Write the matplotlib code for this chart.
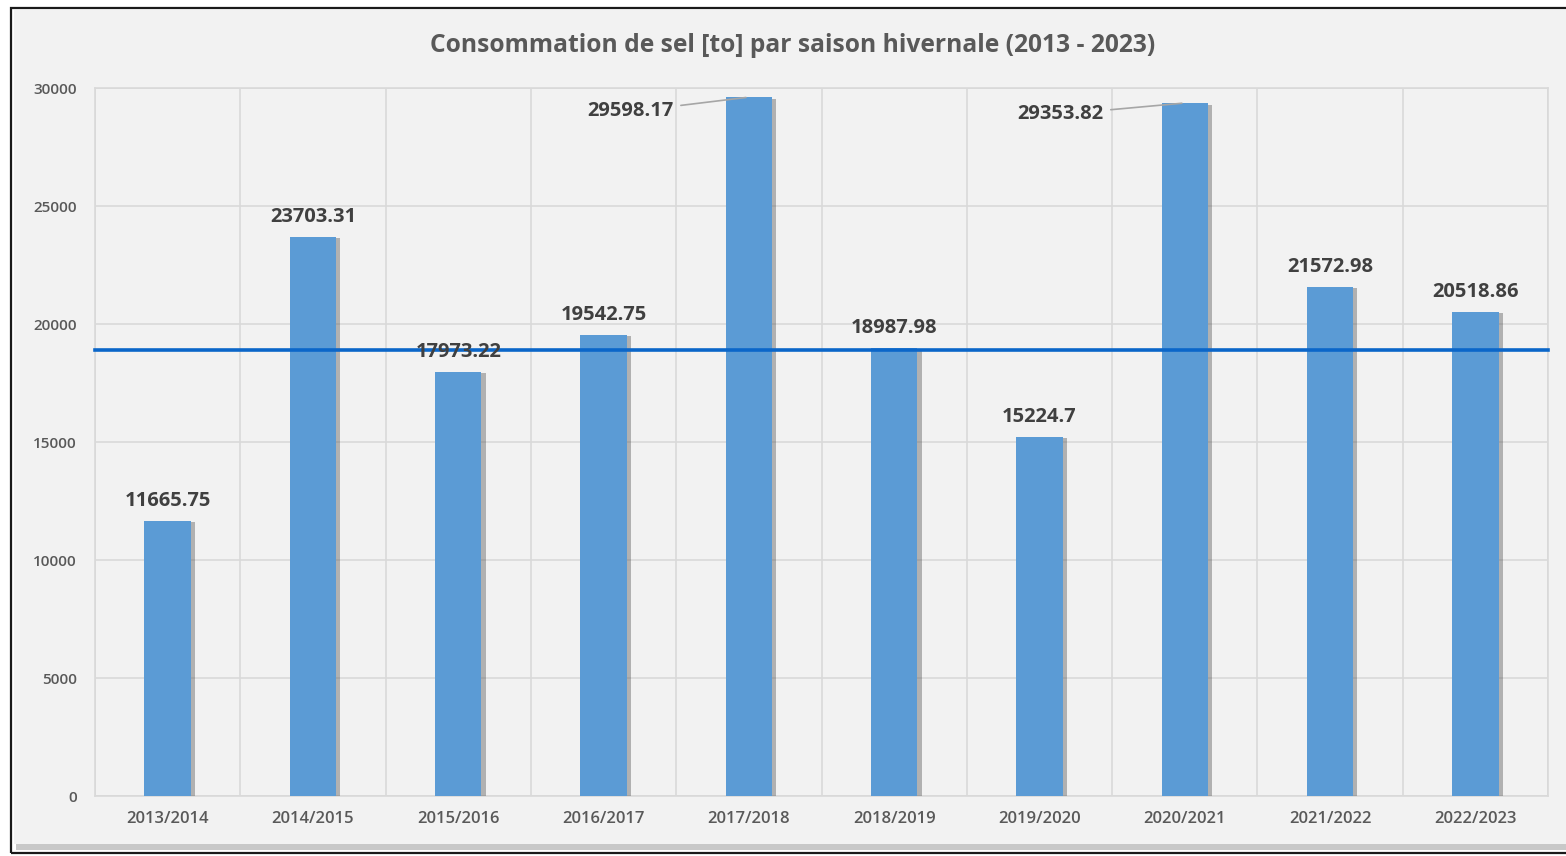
import matplotlib
matplotlib.use("Agg")
from matplotlib import pyplot as plt
from matplotlib import patches
from matplotlib import patheffects as pe
import numpy as np

# data
seasons = ['2013/2014', '2014/2015', '2015/2016', '2016/2017', '2017/2018',
           '2018/2019', '2019/2020', '2020/2021', '2021/2022', '2022/2023']
salt_to = [11665.75, 23703.31, 17973.22, 19542.75, 29598.17,
           18987.98, 15224.7, 29353.82, 21572.98, 20518.86]
value_labels = ['11665.75', '23703.31', '17973.22', '19542.75', '29598.17',
                '18987.98', '15224.7', '29353.82', '21572.98', '20518.86']
ref_line = 18900
leader_idx = [4, 7]
leader_off = {4: (-72, -14), 7: (-78, -11)}
yticks = [0, 5000, 10000, 15000, 20000, 25000, 30000]

plt.rcParams['font.family'] = ['Open Sans', 'DejaVu Sans']

fig = plt.figure(figsize=(15.66, 8.56), dpi=100)
fig.patch.set_facecolor('#ffffff')

# panel with black frame + soft shadow
shadow = patches.Rectangle((16/1566, 1-850/856), 1.0, (850-12)/856,
                           transform=fig.transFigure, facecolor='#c8c8c8',
                           edgecolor='none', zorder=-3)
fig.patches.append(shadow)
panel = patches.Rectangle((14/1566, 1-844/856), 1.0, (844-10)/856,
                          transform=fig.transFigure, facecolor='#f2f2f2',
                          edgecolor='none', zorder=-2)
fig.patches.append(panel)
frame = patches.Rectangle((11/1566, 1-853/856), 1.0, (853-8)/856,
                          transform=fig.transFigure, facecolor='none',
                          edgecolor='#1a1a1a', lw=1.6, zorder=-1)
fig.patches.append(frame)

ax = fig.add_axes([95/1566, 1-796/856, (1548-95)/1566, (796-88)/856])
ax.set_facecolor('#f2f2f2')

x = np.arange(len(seasons))
bars = ax.bar(x, salt_to, width=0.32, color='#5b9bd5', zorder=3)
for b in bars:
    b.set_path_effects([pe.SimplePatchShadow(offset=(3, -1), shadow_rgbFace='#505050', alpha=0.4),
                        pe.Normal()])

ax.set_xlim(-0.5, len(seasons)-0.5)
ax.set_ylim(0, 30000)
ax.set_yticks(yticks)
ax.set_yticklabels([str(v) for v in yticks])
ax.set_xticks(x)
ax.set_xticklabels(seasons)
ax.set_xticks(np.arange(len(seasons)+1)-0.5, minor=True)

ax.tick_params(axis='y', length=0, pad=13, labelsize=11, labelcolor='#595959')
ax.tick_params(axis='x', which='both', length=0, pad=11, labelsize=12, labelcolor='#595959')
for lab in ax.get_xticklabels() + ax.get_yticklabels():
    lab.set_fontweight('semibold')

ax.grid(axis='y', color='#d9d9d9', lw=1.2, zorder=0)
ax.grid(axis='x', which='minor', color='#d9d9d9', lw=1.2, zorder=0)
ax.grid(axis='x', which='major', visible=False)
for s in ax.spines.values():
    s.set_color('#d9d9d9')
    s.set_linewidth(1.2)

ax.axhline(ref_line, color='#0b66c9', lw=2.6, zorder=4, clip_on=False)

for i, v in enumerate(salt_to):
    if i in leader_idx:
        ax.annotate(value_labels[i], xy=(x[i] - 0.02, v), xytext=leader_off[i],
                    textcoords='offset pixels', ha='right', va='center',
                    fontsize=14.5, fontweight='bold', color='#404040',
                    arrowprops=dict(arrowstyle='-', color='#a6a6a6', lw=1.2,
                                    shrinkA=3, shrinkB=0), zorder=5)
    else:
        ax.annotate(value_labels[i], xy=(x[i], v), xytext=(0, 10), textcoords='offset pixels',
                    ha='center', va='bottom', fontsize=14.5, fontweight='bold',
                    color='#404040', zorder=5)

fig.text(793/1566, 1-46/856, 'Consommation de sel [to] par saison hivernale (2013 - 2023)',
         ha='center', va='center', fontsize=17.7, fontweight='bold', color='#595959')

fig.savefig('out.png', dpi=100, facecolor=fig.get_facecolor())
